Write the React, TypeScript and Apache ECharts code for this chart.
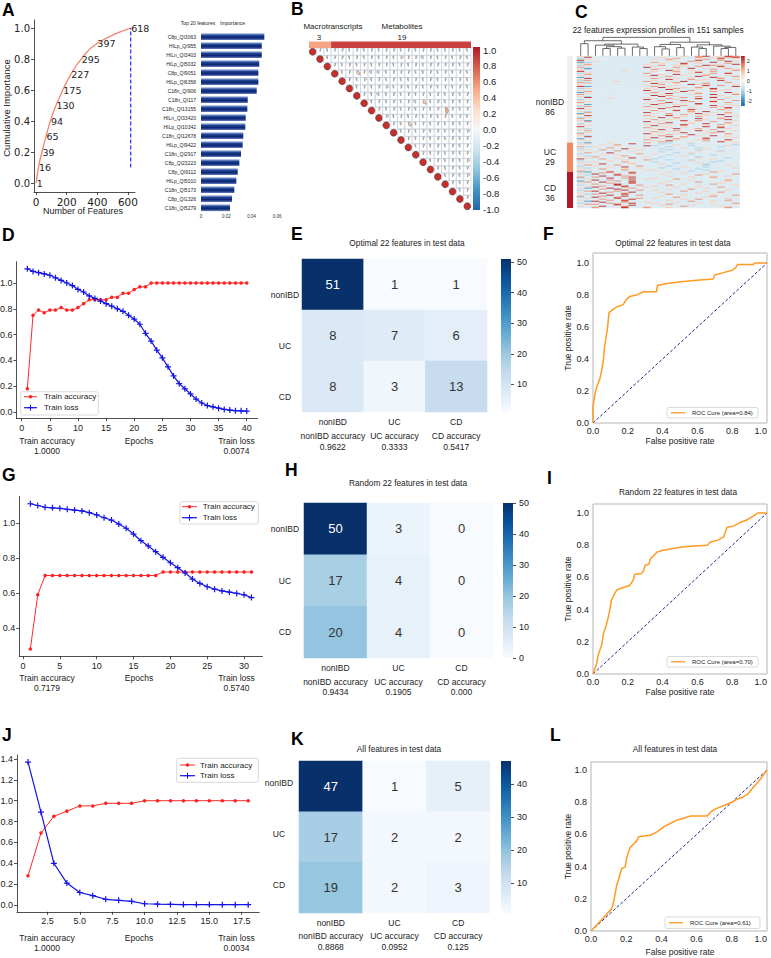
import React, { useEffect, useRef } from 'react';
import * as echarts from 'echarts';

const FONT = "'Liberation Sans', Arial, sans-serif";
const DV = "'DejaVu Sans', sans-serif";

// ---------- Panel A ----------
const featureCounts = [1, 16, 39, 65, 94, 130, 175, 227, 295, 397, 618];
const cumImportance = [0, 0.1, 0.2, 0.3, 0.4, 0.5, 0.6, 0.7, 0.8, 0.9, 1.0];
const cutoffFeatures = 618;
const cutoffRange = [0.1, 1.0];
const featXTicks = [0, 200, 400, 600];
const cumYTicks = [0, 0.2, 0.4, 0.6, 0.8, 1.0];
const topFeatures = ['C8p_QI3063', 'HILp_QI955', 'HILn_QI3403', 'HILp_QI5032', 'C8p_QI9051', 'HILp_QI6358', 'C18n_QI906', 'C18n_QI117', 'C18n_QI13155', 'HILn_QI33420', 'HILp_QI10342', 'C18n_QI12678', 'HILp_QI9422', 'C18n_QI2917', 'C8p_QI23223', 'C8p_QI9112', 'HILp_QI5010', 'C18n_QI5173', 'C8p_QI1326', 'C18n_QI5279'];
const topImportance = [0.050, 0.048, 0.048, 0.046, 0.0453, 0.0453, 0.044, 0.0369, 0.0366, 0.0353, 0.035, 0.0334, 0.0329, 0.0316, 0.0303, 0.029, 0.0279, 0.0263, 0.0245, 0.0229];

// ---------- Panel B ----------
const omicsGroups = ['Macrotranscripts', 'Metabolites'];
const omicsCounts = [3, 19];
const omicsColors = ['#f4a582', '#c9413f'];
const corrCode: Record<string, number> = { '0': 0.03, a: -0.03, '1': 0.08, b: -0.08, '2': 0.15, c: -0.15, '3': 0.3, d: -0.3, '4': 0.45 };
const corrUpper = [
  '0a01a0b0a01a0b01aa0ab',
  'a01a0b0a0a201c0a0a1b',
  '0a1a0a10a0a0a1010a1',
  'a030ccb001ab0a1a0b',
  '0a2b0a1ab0a1a0b0a',
  'a0a12a0a0a1a0b0a',
  '0bcb0a1a0a0b0a1',
  'a0a1a0c3a1b0a0',
  '0a1a0b0a140a1',
  '2a0b0a1a0a0b',
  '0a3a0b0a1a0',
  'a0a1b0a0a2',
  '0a0b1a0a0',
  'a1a0a0b0',
  '0a0a1a0',
  'a0b0a2',
  '0a0a1',
  'a1b2',
  '0a0',
  'a0',
  '1',
];
const corrTicks = [-1, -0.8, -0.6, -0.4, -0.2, 0, 0.2, 0.4, 0.6, 0.8, 1];

// ---------- Panel C ----------
const heatCode: Record<string, number> = { '.': -0.42, ',': -0.12, '-': -0.95, '=': -1.7, o: 0.75, r: 1.35, R: 2.2 };
const heatRows = [
  'o.|.......|..,..o.rR.oRr', '.R|.......|..o.,..r.o.rR', '-.|.......|....r..o..R.o', '.o|.,.....|.o.r...,r.o..',
  'R.|.......|...o...R..r..', '..|o......|.,..o.r....Ro', '=-|.......|.r.....o.R...', 'o.|.......|..o..R.o...r.',
  '.r|.......|o....r....o.R', '-o|.......|..r.o...Rr...', '..|.......|.o...o.r..R..', 'r.|.......|R...r.....o..',
  '.=|.......|..o...R.o..r.', 'o-|.......|.r..o....r..o', '..|....o..|...R..o.....r', 'R.|.......|.o..r..o.r...',
  '.o|.......|..,.o..R...o.', '-.|.......|r.....o..r.R.', '.r|.......|..o.R...o....', 'o.|.......|.R...o..r..o.',
  '..|.......|o..r...R....r', '=.|.......|..o...o..Ro..', '.R|.......|.r..o.....r..', 'o.|.......|...R..r.o...o',
  '-r|.......|.o.....o..R..', '..|...o...|r..o.R.......', 'r-|.......|..o.r...o..r.', '.o|.......|.R..o...r....',
  'o.|.......|..r...Ro....o', '..|.......|o...o...R.r..', 'R=|.......|.r.o....o...R', '..|.......|..R..o.r.....',
  '-o|.......|o...r..o.R...', '..|.......|.o.R.....r.o.', 'o.|.......|R...o.r...o..', '.r|.......|..o..R...r...',
  '=.|.......|.r..o..o...R.', '.o|.......|o..R...r....o', 'r.|.......|..o...o..R..r', '..|.......|.R.r......o..',
  'o-|.......|..R.o..r.o...', '.R|.......|o....r...R.o.', '..|..o....|.o.r...R.....', '-.|.......|R...o..o..r..',
  'o.|.......|..r..R...o..r', '.o|.......|.o....r..R...', 'r.|.......|...R.o...o.r.', '..|.......|o.r....R.....',
  '.=|.......|.R..o..r...o.', 'o.|.......|..o..r...R..o', '-r|.......|r...R.....o..', '..|.......|.o.r..o..r.R.',
  'R.|.......|..R....o...r.', '.o|.......|o...o.R...r..', '..|.......|.r..R.o....o.', 'o-|.......|..o...r.R....',
  '.r|.......|R.....o..o.r.', '=.|.......|.o.r...R...o.', 'o.|.......|...o.r..o.R..', '.R|.......|r..R....o...o',
  '..|.......|.o...o.r...R.', '-o|.......|..R.r.....o..', 'r.|.......|o...o..R..r..', '..|.......|.r.o....o..R.',
  'o=|.......|..o..R.r....o', '.r|.......|R....o...r...', '..|.......|.o.R..o....r.', '-.|.......|..r...o.R..o.',
  'o.|.......|o..o.R....r..', '.o|.......|.R...r..o...o', 'R.|.......|..o.....R.r..', '..|.......|r..o.o....R..',
  '.-|.......|.o..R..r...o.', 'o.|.......|..R...o..r...', '.r|.......|o...r..R....o', '..|.......|.r.o....o.R..',
  '-o|.......|..o..R...r...', 'r.|.......|R...o...o..r.', '..|.......|.o.r..R....o.', 'o-|.......|..r....o.R...',
  '.R|.......|o..R.r.....o.', '..|.......|.R...o..r...o', '=.|.......|..o.r...R....', 'o.|.......|r...o..o...R.',
  '.o|.......|.o.R....r..o.', '..|.......|..r...o...R..',
  // UC
  '-=|..o....r|..-........o', '.o|.....R..|.-...-......', 'o.|.o.r....|...o.......-', '..|...o...R|-....-....o.',
  'r-|o.......|..-......-..', '..|..r..o..|....o.-.....', '-.|....R...|.-.....o....', '.o|.r....o.|..-...-.....',
  'o.|...r....|......o..-..', '..|o....o..|.-.......o..', '.r|..R.....|...-.o......', '-.|......r.|o....-......',
  '..|.o.o....|..-.....-...', 'o-|....r...|....o.......', '..|r......o|.-....-.....', '.o|...o.R..|......o...-.',
  'R.|.r......|-.......o...', '..|....o..r|..-..-......', '-.|..o.....|.....o...-..', '.o|o...r...|-.......-...',
  'o.|.....o..|...-..o.....', '..|.R...o..|.o.....-....', '.r|...r....|.......-..o.', '-.|o.....r.|..-.........',
  '..|..o.R...|....o..-....', 'o-|......o.|.-.........o', '..|.r..o...|...-..-.....', '.o|....r..o|o......-....',
  'r.|..o.....|.....-...o..',
  // CD
  '-=|..R..r..|..o.....r...', '..|.r...R..|....o.......', 'o.|R..r....|.o.....o...r', '.-|...R.o..|......r.....',
  '..|.R..r...|..o.......o.', 'r.|r....R..|.....o..r...', '-.|..R.r...|o.......o...', '.o|.....R.o|...r........',
  '..|R.r.....|.....o....r.', '=.|...r.R..|..o.......o.', '.r|.R...r..|......r.....', 'o.|..r..R..|.o.......o..',
  '..|r..R....|....o...r...', '-.|...R..r.|..r........o', '.o|.r..R...|o.....o.....', '..|R...r..o|...o.....r..',
  'o=|..R..r..|.......o....', '..|.r.R....|..o..r......', '-.|....R.r.|o.........o.', '.r|R..r....|....r..o....',
  '..|..r..R..|.o.......r..', 'o.|.R..r...|......o.....', '.-|r...R...|..r.....o...', '..|..R...r.|....o......r',
  'r.|.r..R...|.o......r...', '-.|R..r....|...r...o....', '.o|...R..r.|o.........o.', '..|.r...R..|....o.r.....',
  'o.|..r.R...|..o.......r.', '.=|R...r...|.....r..o...', '..|.R..r..o|...o........', '-.|..r..R..|o.....o....r',
  '.r|r..R....|..r.....o...', '..|...r.R..|.o...o......', 'o.|.R..r...|....r....o..', '..|r...R..r|..o.......r.',
];
const sampleGroups = ['nonIBD', 'UC', 'CD'];
const sampleCounts = [86, 29, 36];
const sampleColors = ['#efefef', '#ef8a62', '#b2182b'];
const heatTicks = [-2, -1, 0, 1, 2];
// dendrogram merges: [childA, childB, height]; leaves 0..21, clusters 22+k
const dendroMerges: [number, number, number][] = [
  [3, 4, 0.40], [5, 6, 0.42], [22, 23, 0.50], [2, 24, 0.58], [8, 9, 0.40], [7, 26, 0.48], [25, 27, 0.64],
  [0, 1, 0.66], [29, 28, 0.82], [11, 12, 0.38], [10, 31, 0.50], [13, 14, 0.45], [32, 33, 0.62], [16, 17, 0.40],
  [15, 35, 0.48], [19, 20, 0.40], [37, 21, 0.46], [18, 38, 0.53], [36, 39, 0.60], [34, 40, 0.74], [30, 41, 1.0],
];

// ---------- Training curves ----------
const dAcc = [0.18, 0.75, 0.79, 0.77, 0.79, 0.79, 0.81, 0.79, 0.79, 0.81, 0.84, 0.87, 0.87, 0.87, 0.87, 0.89, 0.89, 0.92, 0.92, 0.95, 0.97, 0.97, 1, 1, 1, 1, 1, 1, 1, 1, 1, 1, 1, 1, 1, 1, 1, 1, 1, 1];
const dLoss = [1.11, 1.09, 1.08, 1.07, 1.06, 1.04, 1.02, 1.00, 0.98, 0.95, 0.93, 0.90, 0.88, 0.86, 0.84, 0.82, 0.80, 0.78, 0.75, 0.72, 0.68, 0.61, 0.55, 0.48, 0.42, 0.35, 0.28, 0.22, 0.18, 0.14, 0.10, 0.07, 0.05, 0.04, 0.03, 0.02, 0.015, 0.01, 0.009, 0.0074];
const dFinal = ['1.0000', '0.0074'];
const dXTicks = [0, 5, 10, 15, 20, 25, 30, 35, 40];
const dYTicks = [0, 0.2, 0.4, 0.6, 0.8, 1.0];

const gAcc = [0.28, 0.59, 0.70, 0.70, 0.70, 0.70, 0.70, 0.70, 0.70, 0.70, 0.70, 0.70, 0.70, 0.70, 0.70, 0.70, 0.70, 0.70, 0.72, 0.72, 0.72, 0.72, 0.72, 0.72, 0.72, 0.72, 0.72, 0.72, 0.72, 0.72, 0.72];
const gLoss = [1.11, 1.10, 1.09, 1.087, 1.084, 1.078, 1.074, 1.069, 1.059, 1.046, 1.03, 1.017, 0.994, 0.97, 0.937, 0.899, 0.869, 0.836, 0.804, 0.773, 0.745, 0.715, 0.68, 0.655, 0.636, 0.622, 0.612, 0.605, 0.598, 0.59, 0.574];
const gFinal = ['0.7179', '0.5740'];
const gXTicks = [0, 5, 10, 15, 20, 25, 30];
const gYTicks = [0.4, 0.6, 0.8, 1.0];

const jAcc = [0.28, 0.69, 0.85, 0.90, 0.95, 0.95, 0.975, 0.975, 0.975, 1, 1, 1, 1, 1, 1, 1, 1, 1];
const jLoss = [1.37, 0.89, 0.40, 0.21, 0.12, 0.09, 0.055, 0.045, 0.035, 0.012, 0.008, 0.006, 0.004, 0.004, 0.004, 0.0035, 0.0035, 0.0034];
const jFinal = ['1.0000', '0.0034'];
const jXTicks = [2.5, 5, 7.5, 10, 12.5, 15, 17.5];
const jYTicks = [0, 0.2, 0.4, 0.6, 0.8, 1.0, 1.2, 1.4];

// ---------- Confusion matrices ----------
const classes = ['nonIBD', 'UC', 'CD'];
const cmE = [[51, 1, 1], [8, 7, 6], [8, 3, 13]];
const accE = ['0.9622', '0.3333', '0.5417'];
const cmH = [[50, 3, 0], [17, 4, 0], [20, 4, 0]];
const accH = ['0.9434', '0.1905', '0.000'];
const cmK = [[47, 1, 5], [17, 2, 2], [19, 2, 3]];
const accK = ['0.8868', '0.0952', '0.125'];
const cbTicksE = [10, 20, 30, 40, 50];
const cbTicksH = [0, 10, 20, 30, 40, 50];
const cbTicksK = [10, 20, 30, 40];

// ---------- ROC ----------
const rocF = [[0, 0], [0, 0.1], [0.008, 0.16], [0.015, 0.2], [0.023, 0.23], [0.038, 0.27], [0.05, 0.33], [0.058, 0.38], [0.067, 0.48], [0.077, 0.55], [0.083, 0.59], [0.092, 0.69], [0.115, 0.71], [0.135, 0.725], [0.173, 0.74], [0.19, 0.77], [0.21, 0.79], [0.25, 0.80], [0.27, 0.81], [0.29, 0.82], [0.365, 0.82], [0.37, 0.86], [0.42, 0.87], [0.48, 0.88], [0.58, 0.89], [0.69, 0.90], [0.70, 0.925], [0.75, 0.94], [0.80, 0.955], [0.82, 0.97], [0.83, 0.99], [0.92, 0.99], [0.93, 1.0], [1, 1]];
const rocI = [[0, 0], [0.02, 0.06], [0.03, 0.12], [0.05, 0.18], [0.06, 0.25], [0.075, 0.3], [0.085, 0.34], [0.097, 0.40], [0.106, 0.46], [0.125, 0.50], [0.135, 0.52], [0.154, 0.53], [0.183, 0.54], [0.21, 0.55], [0.23, 0.58], [0.24, 0.62], [0.28, 0.625], [0.29, 0.64], [0.30, 0.675], [0.32, 0.68], [0.33, 0.716], [0.35, 0.737], [0.367, 0.757], [0.396, 0.767], [0.444, 0.777], [0.50, 0.788], [0.58, 0.795], [0.656, 0.80], [0.676, 0.82], [0.714, 0.83], [0.75, 0.85], [0.77, 0.91], [0.81, 0.92], [0.85, 0.943], [0.89, 0.96], [0.927, 0.985], [0.946, 1.0], [1, 1]];
const rocL = [[0, 0], [0.06, 0.07], [0.118, 0.139], [0.128, 0.18], [0.137, 0.23], [0.147, 0.29], [0.156, 0.315], [0.166, 0.357], [0.175, 0.388], [0.194, 0.398], [0.204, 0.46], [0.213, 0.49], [0.223, 0.52], [0.242, 0.54], [0.26, 0.56], [0.27, 0.585], [0.337, 0.595], [0.375, 0.616], [0.413, 0.647], [0.45, 0.668], [0.49, 0.69], [0.528, 0.70], [0.566, 0.714], [0.66, 0.714], [0.68, 0.74], [0.71, 0.76], [0.756, 0.78], [0.80, 0.80], [0.83, 0.82], [0.86, 0.83], [0.89, 0.85], [0.92, 0.89], [0.96, 0.94], [1, 1]];
const rocAreas = ['0.84', '0.70', '0.61'];
const rocTicks = [0, 0.2, 0.4, 0.6, 0.8, 1.0];

const BLUES = ['#f7fbff', '#deebf7', '#c6dbef', '#9ecae1', '#6baed6', '#4292c6', '#2171b5', '#08519c', '#08306b'];
const RDBU = ['#2166ac', '#4393c3', '#92c5de', '#d1e5f0', '#f7f7f7', '#fddbc7', '#f4a582', '#d6604d', '#b2182b'];

function hexRgb(h: string) {
  const n = parseInt(h.slice(1), 16);
  return [(n >> 16) & 255, (n >> 8) & 255, n & 255];
}
function lerpColor(colors: string[], t: number) {
  t = Math.max(0, Math.min(1, t));
  const n = colors.length - 1;
  const f = t * n;
  const i = Math.min(Math.floor(f), n - 1);
  const u = f - i;
  const a = hexRgb(colors[i]);
  const b = hexRgb(colors[i + 1]);
  return `rgb(${Math.round(a[0] + (b[0] - a[0]) * u)},${Math.round(a[1] + (b[1] - a[1]) * u)},${Math.round(a[2] + (b[2] - a[2]) * u)})`;
}
function vGrad(colorsTopToBottom: string[]) {
  return new echarts.graphic.LinearGradient(0, 0, 0, 1, colorsTopToBottom.map((c, i, a) => ({ offset: i / (a.length - 1), color: c })));
}

function T(text: any, x: number, y: number, size: number, o: any = {}) {
  return {
    type: 'text', x, y, z: 100, silent: true, rotation: o.rot || 0,
    style: {
      text: String(text), fill: o.color || '#222', fontSize: size, fontFamily: o.ff || FONT,
      fontWeight: o.bold ? 'bold' : 'normal',
      textAlign: o.align || 'center', align: o.align || 'center',
      textVerticalAlign: 'middle', verticalAlign: 'middle',
    },
  };
}
function L(x1: number, y1: number, x2: number, y2: number, stroke: string, w = 1) {
  return { type: 'line', z: 100, silent: true, shape: { x1, y1, x2, y2 }, style: { stroke, lineWidth: w } };
}

function buildOption() {
  const grid: any[] = [];
  const xAxis: any[] = [];
  const yAxis: any[] = [];
  const series: any[] = [];
  const visualMap: any[] = [];
  const els: any[] = [];

  const addGrid = (l: number, t: number, w: number, h: number, xa: any, ya: any, extra: any = {}) => {
    const gi = grid.length;
    grid.push({ left: l, top: t, width: w, height: h, containLabel: false, outerBoundsMode: 'none', show: false, ...extra });
    xAxis.push({ gridIndex: gi, ...xa });
    yAxis.push({ gridIndex: gi, ...ya });
    return gi;
  };
  const valAxis = (min: number, max: number, ticks: number[], fmt: any, o: any = {}) => ({
    type: 'value', min, max, inverse: !!o.inverse, position: o.position,
    splitLine: { show: false },
    axisLine: { show: o.line ?? true, onZero: false, lineStyle: { color: '#222', width: 0.8 } },
    axisTick: { show: o.tick ?? true, length: o.tickLen ?? 3, inside: false, customValues: ticks, lineStyle: { color: '#222', width: 0.8 } },
    axisLabel: { show: true, customValues: ticks, formatter: fmt, fontSize: o.fs ?? 9, fontFamily: o.ff ?? FONT, color: '#222', margin: o.margin ?? 4, alignMaxLabel: o.alignMax },
  });
  const hid = (type: string, more: any = {}) => ({ type, show: false, ...more });

  // ---------- Letters ----------
  const letters: [string, number, number][] = [
    ['A', 2, 3], ['B', 291, 2], ['C', 575, 5], ['D', 2, 228], ['E', 291, 227], ['F', 543, 227],
    ['G', 2, 468], ['H', 285, 463], ['I', 547, 471], ['J', 2, 728], ['K', 291, 732], ['L', 550, 728],
  ];
  letters.forEach(([s, x, y]) => els.push(T(s, x, y + 6.5, 17.5, { bold: true, align: 'left', color: '#000' })));

  // ---------- Panel A: cumulative importance ----------
  const gA = addGrid(34, 20, 101, 172,
    valAxis(-13, 646, featXTicks, (v: number) => String(v), { fs: 10.5, ff: DV }),
    valAxis(-0.058, 1.052, cumYTicks, (v: number) => v.toFixed(1), { fs: 10, ff: DV }));
  series.push({
    type: 'line', xAxisIndex: gA, yAxisIndex: gA, smooth: true, silent: true,
    data: featureCounts.map((f, i) => [f, cumImportance[i]]),
    symbol: 'circle', symbolSize: 1, itemStyle: { color: 'rgba(0,0,0,0)' },
    lineStyle: { color: '#f4836f', width: 1.3 },
    label: { show: true, position: 'right', distance: 0, formatter: (p: any) => String(p.value[0]), fontSize: 9.5, fontFamily: DV, color: '#222' },
  });
  series.push({
    type: 'line', xAxisIndex: gA, yAxisIndex: gA, silent: true, symbol: 'none',
    data: cutoffRange.map((v) => [cutoffFeatures, v]),
    lineStyle: { color: '#2a2aff', width: 1.2, type: [4, 2] },
  });
  els.push(T('Number of Features', 83, 211, 9));
  els.push(T('Cumulative Importance', 6, 108, 9.5, { rot: Math.PI / 2 }));

  // ---------- Panel A: top 20 bars ----------
  const gA2 = addGrid(201, 32.2, 76, 180,
    { type: 'value', min: 0, max: 0.06, interval: 0.02, axisLine: { show: false }, axisTick: { show: false }, splitLine: { show: false },
      axisLabel: { fontSize: 4.5, margin: 2, color: '#333', formatter: (v: number) => (v === 0 ? '0' : v.toFixed(2)) } },
    { type: 'category', inverse: true, data: topFeatures, axisLine: { show: false }, axisTick: { show: false },
      axisLabel: { fontSize: 5, margin: 5, color: '#222', interval: 0 } });
  series.push({
    type: 'bar', xAxisIndex: gA2, yAxisIndex: gA2, silent: true, data: topImportance, barWidth: 6.8,
    itemStyle: { color: vGrad(['#a9bce3', '#1d3f91', '#0a2370', '#6d88c6']) },
  });
  els.push(T('Top 20 features', 198, 23, 5));
  els.push(T('Importance', 232.5, 23, 5));

  // ---------- Panel B: header strip ----------
  const gBh = addGrid(309, 41.5, 162, 6.5, hid('value', { min: 0, max: 22 }), hid('category', { data: ['g'] }));
  omicsCounts.forEach((c, k) => series.push({
    type: 'bar', xAxisIndex: gBh, yAxisIndex: gBh, stack: 'omics', barWidth: '100%', silent: true,
    data: [c], itemStyle: { color: omicsColors[k] },
  }));
  els.push(T(omicsGroups[0], 333, 26, 8));
  els.push(T(String(omicsCounts[0]), 319, 37, 8));
  els.push(T(omicsGroups[1], 402, 26, 8));
  els.push(T(String(omicsCounts[1]), 402, 37, 8));

  // ---------- Panel B: correlation glyphs ----------
  const corrData: number[][] = [];
  for (let i = 0; i < 22; i++) {
    corrData.push([i, i, 1]);
    const s = corrUpper[i] || '';
    for (let j = i + 1; j < 22; j++) {
      const ch = s[j - i - 1];
      corrData.push([j, i, corrCode[ch] ?? 0.02]);
    }
  }
  const gB = addGrid(309, 48, 162, 162, hid('value', { min: 0, max: 22 }), hid('value', { min: 0, max: 22, inverse: true }));
  series.push({
    type: 'custom', xAxisIndex: gB, yAxisIndex: gB, silent: true, data: corrData,
    encode: { x: 0, y: 1 },
    renderItem: (params: any, api: any) => {
      const j = api.value(0), i = api.value(1), r = api.value(2);
      const c = api.coord([j + 0.5, i + 0.5]);
      const sz = api.size([1, 1]);
      const w = sz[0], h = sz[1];
      const children: any[] = [];
      if (j > i) {
        children.push({ type: 'rect', shape: { x: c[0] - w / 2, y: c[1] - h / 2, width: w, height: h }, style: { fill: 'none', stroke: '#c8d0dc', lineWidth: 0.6 } });
        const rad = Math.min(w, h) * 0.44;
        const a0 = -Math.PI / 2;
        const th = 2 * Math.PI * Math.max(Math.abs(r), 0.06);
        const sa = r >= 0 ? a0 : a0 - th;
        const ea = r >= 0 ? a0 + th : a0;
        children.push({ type: 'sector', shape: { cx: c[0], cy: c[1], r0: 0, r: rad, startAngle: sa, endAngle: ea, clockwise: true },
          style: { fill: lerpColor(RDBU, (r + 1) / 2), stroke: '#6f6f6f', lineWidth: 0.5 } });
      } else {
        children.push({ type: 'circle', shape: { cx: c[0], cy: c[1], r: Math.min(w, h) * 0.47 }, style: { fill: '#c62f2c', stroke: '#333', lineWidth: 0.5 } });
      }
      return { type: 'group', children };
    },
  });
  // colorbar B
  els.push({ type: 'rect', z: 100, silent: true, shape: { x: 473, y: 47, width: 7, height: 163 }, style: { fill: vGrad(RDBU.slice().reverse()) } });
  addGrid(473, 50, 7, 159.5, hid('value', { min: 0, max: 1 }),
    valAxis(-1, 1, corrTicks, (v: number) => v.toFixed(1), { position: 'right', line: false, tick: false, fs: 9.5, margin: 3 }));

  // ---------- Panel C ----------
  els.push(T('22 features expression profiles in 151 samples', 658, 30, 8.3));
  const leafPos: number[] = [];
  const nodeH: number[] = [];
  for (let k = 0; k < 22; k++) { leafPos.push(k + 0.5); nodeH.push(0); }
  const dendroData: number[][] = [];
  dendroMerges.forEach(([a, b, h]) => {
    dendroData.push([leafPos[a], leafPos[b], nodeH[a], nodeH[b], h]);
    leafPos.push((leafPos[a] + leafPos[b]) / 2);
    nodeH.push(h);
  });
  const gCd = addGrid(577, 37, 162.5, 19, hid('value', { min: 0, max: 22 }), hid('value', { min: 0, max: 1.02 }));
  series.push({
    type: 'custom', xAxisIndex: gCd, yAxisIndex: gCd, silent: true, data: dendroData,
    encode: { x: [0, 1], y: [2, 3, 4] },
    renderItem: (params: any, api: any) => {
      const xa = api.value(0), xb = api.value(1), ha = api.value(2), hb = api.value(3), h = api.value(4);
      const pts = [api.coord([xa, ha]), api.coord([xa, h]), api.coord([xb, h]), api.coord([xb, hb])];
      return { type: 'polyline', shape: { points: pts }, style: { stroke: '#444', lineWidth: 0.8, fill: 'none' } };
    },
  });
  const heatData: number[][] = [];
  heatRows.forEach((row, r) => {
    const s = row.replace(/\|/g, '');
    for (let k = 0; k < 22; k++) heatData.push([k, r, heatCode[s[k]] ?? heatCode['.']]);
  });
  const gC = addGrid(577, 56, 162.5, 152,
    hid('category', { data: Array.from({ length: 22 }, (_, k) => String(k)) }),
    hid('category', { inverse: true, data: heatRows.map((_, k) => String(k)) }));
  const siC = series.length;
  series.push({ type: 'heatmap', xAxisIndex: gC, yAxisIndex: gC, silent: true, data: heatData, progressive: 0, itemStyle: { borderWidth: 0 } });
  visualMap.push({ type: 'continuous', show: false, seriesIndex: siC, dimension: 2, min: -2.5, max: 2.5, inRange: { color: RDBU } });
  const gCs = addGrid(567, 56, 6, 152, hid('category', { data: ['g'] }), hid('value', { min: 0, max: 151, inverse: true }));
  sampleCounts.forEach((c, k) => series.push({
    type: 'bar', xAxisIndex: gCs, yAxisIndex: gCs, stack: 'grp', barWidth: '100%', silent: true,
    data: [c], itemStyle: { color: sampleColors[k] },
  }));
  const grpLabelY = [102, 152, 188];
  sampleGroups.forEach((g, k) => {
    els.push(T(g, 550, grpLabelY[k], 8.5));
    els.push(T(String(sampleCounts[k]), 550, grpLabelY[k] + 10, 8.5));
  });
  els.push({ type: 'rect', z: 100, silent: true, shape: { x: 741, y: 56, width: 3.8, height: 50 }, style: { fill: vGrad(RDBU.slice().reverse()) } });
  addGrid(741, 56, 3.8, 50, hid('value', { min: 0, max: 1 }),
    valAxis(-2.5, 2.5, heatTicks, (v: number) => String(v), { position: 'right', line: false, tick: false, fs: 5.5, margin: 2 }));

  // ---------- Training curve panels ----------
  const plusSym = 'path://M4,0H6V4H10V6H6V10H4V6H0V4H4Z';
  const trainPanel = (rect: number[], xr: number[], yr: number[], xt: number[], yt: number[], xfmt: any, acc: number[], loss: number[]) => {
    const gi = addGrid(rect[0], rect[1], rect[2], rect[3],
      valAxis(xr[0], xr[1], xt, xfmt, { fs: 9, margin: 5 }),
      valAxis(yr[0], yr[1], yt, (v: number) => v.toFixed(1), { fs: 9, margin: 4 }));
    series.push({
      type: 'line', name: 'Train accuracy', xAxisIndex: gi, yAxisIndex: gi, silent: true,
      data: acc.map((v, i) => [i + 1, v]), symbol: 'circle', symbolSize: 3.5,
      itemStyle: { color: '#ff2020' }, lineStyle: { color: '#ff2a2a', width: 1 },
    });
    series.push({
      type: 'line', name: 'Train loss', xAxisIndex: gi, yAxisIndex: gi, silent: true,
      data: loss.map((v, i) => [i + 1, v]), symbol: plusSym, symbolSize: 6,
      itemStyle: { color: '#1414e6' }, lineStyle: { color: '#1414e6', width: 1.2 },
    });
  };
  trainPanel([16.4, 261.7, 241.3, 156.5], [-0.95, 41.95], [-0.048, 1.165], dXTicks, dYTicks, (v: number) => String(v), dAcc, dLoss);
  trainPanel([19.3, 496.5, 243.2, 159.8], [-0.5, 32.5], [0.2385, 1.1515], gXTicks, gYTicks, (v: number) => String(v), gAcc, gLoss);
  trainPanel([17, 755, 242.2, 156.8], [0.15, 18.85], [-0.065, 1.438], jXTicks, jYTicks, (v: number) => v.toFixed(1), jAcc, jLoss);

  const trainText = (y: number, fin: string[]) => {
    els.push(T('Train accuracy', 47, y, 8.5));
    els.push(T(fin[0], 47, y + 10, 8.5));
    els.push(T('Epochs', 139, y, 8.5));
    els.push(T('Train loss', 236.5, y, 8.5));
    els.push(T(fin[1], 236.5, y + 10, 8.5));
  };
  trainText(441, dFinal);
  trainText(678, gFinal);
  trainText(938, jFinal);

  const trainLegend = (bx: number, by: number, bw: number, bh: number, lx1: number, lx2: number, tx: number, y1: number, y2: number) => {
    els.push({ type: 'rect', z: 99, silent: true, shape: { x: bx, y: by, width: bw, height: bh, r: 2 }, style: { fill: '#fff', stroke: '#d0d0d0', lineWidth: 0.8 } });
    const mx = (lx1 + lx2) / 2;
    els.push(L(lx1, y1, lx2, y1, '#ff2a2a', 1));
    els.push({ type: 'circle', z: 100, silent: true, shape: { cx: mx, cy: y1, r: 1.7 }, style: { fill: '#ff2020' } });
    els.push(T('Train accuracy', tx, y1, 8, { align: 'left' }));
    els.push(L(lx1, y2, lx2, y2, '#1414e6', 1.2));
    els.push(L(mx - 3, y2, mx + 3, y2, '#1414e6', 1));
    els.push(L(mx, y2 - 3, mx, y2 + 3, '#1414e6', 1));
    els.push(T('Train loss', tx, y2, 8, { align: 'left' }));
  };
  trainLegend(20.7, 391.7, 77.6, 23.3, 24, 37, 44, 396.7, 407.7);
  trainLegend(180, 501.7, 78.3, 22.3, 182, 197, 202.7, 506.7, 517.7);
  trainLegend(176.7, 758.3, 81.6, 24, 180, 195, 200, 765, 775.7);

  // ---------- Confusion matrices ----------
  const confusion = (rect: number[], mat: number[][], acc: string[], vmin: number, vmax: number, rowMargin: number, rowShift: number, title: string, titleX: number, titleY: number, cb: number[], cbTicks: number[], accOffsets: number[]) => {
    const rowFmt = rowShift > 0 ? (v: string) => '\n' + v : rowShift < 0 ? (v: string) => v + '\n' : (v: string) => v;
    const gi = addGrid(rect[0], rect[1], rect[2], rect[3],
      { type: 'category', data: classes, axisLine: { show: false }, axisTick: { show: false }, splitLine: { show: false },
        axisLabel: { fontSize: 8.5, margin: 5.5, color: '#222', interval: 0 } },
      { type: 'category', data: classes, inverse: true, axisLine: { show: false }, axisTick: { show: false }, splitLine: { show: false },
        axisLabel: { fontSize: 8.5, margin: rowMargin, color: '#222', align: 'center', interval: 0, formatter: rowFmt,
          lineHeight: rowShift !== 0 ? Math.abs(rowShift) * 2 : 11 } });
    const si = series.length;
    const mid = (vmin + vmax) / 2;
    series.push({
      type: 'heatmap', xAxisIndex: gi, yAxisIndex: gi, silent: true, progressive: 0,
      data: mat.flatMap((row, r) => row.map((v, c) => ({ value: [c, r, v], label: { color: v > mid ? '#ffffff' : '#333333' } }))),
      label: { show: true, fontSize: 13, fontFamily: FONT, formatter: (p: any) => String(p.value[2]) },
      itemStyle: { borderWidth: 0 },
    });
    visualMap.push({ type: 'continuous', show: false, seriesIndex: si, dimension: 2, min: vmin, max: vmax, inRange: { color: BLUES } });
    els.push(T(title, titleX, titleY, 8.3));
    const cw = rect[2] / 3;
    const bottom = rect[1] + rect[3];
    classes.forEach((c, k) => {
      const cx = rect[0] + (k + 0.5) * cw;
      els.push(T(`${c} accuracy`, cx, bottom + accOffsets[0], 8.5));
      els.push(T(acc[k], cx, bottom + accOffsets[1], 8.5));
    });
    els.push({ type: 'rect', z: 100, silent: true, shape: { x: cb[0], y: cb[1], width: cb[2], height: cb[3] }, style: { fill: vGrad(BLUES.slice().reverse()) } });
    addGrid(cb[0], cb[1], cb[2], cb[3], hid('value', { min: 0, max: 1 }),
      valAxis(vmin, vmax, cbTicks, (v: number) => String(v), { position: 'right', line: false, tick: true, tickLen: 3, fs: 9, margin: 6 }));
  };
  confusion([302, 259, 185, 153], cmE, accE, 1, 51, 17, 10, 'Optimal 22 features in test data', 407, 243, [501, 259, 10, 153], cbTicksE, [24, 35]);
  confusion([304, 503, 189, 155], cmH, accH, 0, 50, 19, 0, 'Random 22 features in test data', 408, 483, [503, 503, 10, 155], cbTicksH, [23.5, 33.5]);
  confusion([299, 761, 191, 152], cmK, accK, 1, 47, 20, -3, 'All features in test data', 399, 749, [501, 761, 10, 152], cbTicksK, [22.5, 33.5]);

  // ---------- ROC panels ----------
  const roc = (rect: number[], ymax: number, data: number[][], area: string, title: string, titleX: number, titleY: number, xLabY: number, leg: number[]) => {
    const gi = addGrid(rect[0], rect[1], rect[2], rect[3],
      valAxis(0, 1, rocTicks, (v: number) => v.toFixed(1), { line: false, tick: false, fs: 9, margin: 3, alignMax: 'right' }),
      valAxis(0, ymax, rocTicks, (v: number) => v.toFixed(1), { line: false, tick: false, fs: 9, margin: 4 }),
      { show: true, borderColor: '#b5b5b5', borderWidth: 1, backgroundColor: 'transparent' });
    series.push({
      type: 'line', xAxisIndex: gi, yAxisIndex: gi, silent: true, symbol: 'none',
      data: [[0, 0], [1, 1]], lineStyle: { color: '#23238f', width: 1, type: [3, 2] },
    });
    series.push({
      type: 'line', xAxisIndex: gi, yAxisIndex: gi, silent: true, symbol: 'none',
      data, lineStyle: { color: '#ff9a22', width: 1.5 },
    });
    els.push(T(title, titleX, titleY, 8.3));
    els.push(T('True positive rate', 568, rect[1] + rect[3] / 2, 8.5, { rot: Math.PI / 2 }));
    els.push(T('False positive rate', 680, xLabY, 8.5));
    els.push({ type: 'rect', z: 99, silent: true, shape: { x: leg[0], y: leg[1], width: leg[2], height: leg[3], r: 2 }, style: { fill: '#fff', stroke: '#d0d0d0', lineWidth: 0.8 } });
    const ly = leg[1] + leg[3] / 2;
    els.push(L(leg[0] + 4, ly, leg[0] + 18, ly, '#ff9a22', 1.3));
    els.push(T(`ROC Cure (area=${area})`, leg[0] + 25, ly, 6, { align: 'left' }));
  };
  roc([593, 253, 174, 170], 1.0625, rocF, rocAreas[0], 'Optimal 22 features in test data', 673, 243, 441, [667, 407.5, 91, 10.5]);
  roc([593, 504, 174, 170], 1.056, rocI, rocAreas[1], 'Random 22 features in test data', 678, 492, 692, [667, 656.5, 91, 10.5]);
  roc([591, 762, 176, 169], 1.05, rocL, rocAreas[2], 'All features in test data', 675, 749, 952, [665, 917, 95, 11.5]);

  return {
    animation: false,
    backgroundColor: '#ffffff',
    textStyle: { fontFamily: FONT },
    grid, xAxis, yAxis, series, visualMap,
    graphic: { elements: els },
  };
}

export default function App() {
  const ref = useRef<HTMLDivElement>(null);
  useEffect(() => {
    const chart = echarts.init(ref.current!, null, { renderer: 'svg' });
    chart.setOption(buildOption() as any);
    return () => chart.dispose();
  }, []);
  return <div ref={ref} style={{ position: 'absolute', left: 0, top: 0, width: 771, height: 958, background: '#fff' }} />;
}
